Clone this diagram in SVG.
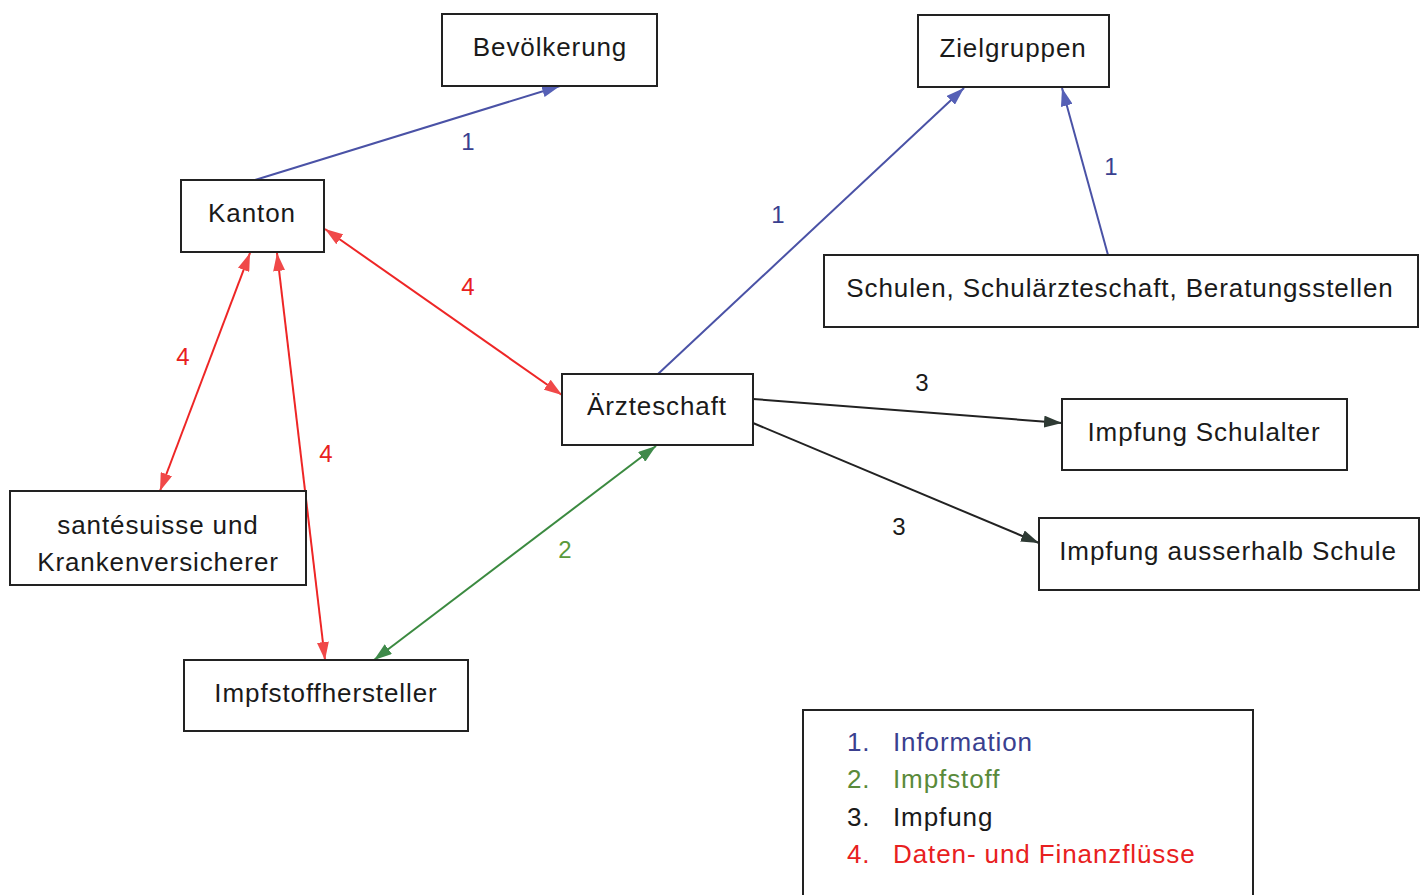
<svg xmlns="http://www.w3.org/2000/svg" width="1426" height="895" viewBox="0 0 1426 895">
<style>
.box{fill:#fff;stroke:#222;stroke-width:2}
.t{font-family:"Liberation Sans",Arial,sans-serif;font-size:26px;letter-spacing:0.9px;fill:#1a1a1a;text-anchor:middle}
.lbl{font-family:"Liberation Sans",Arial,sans-serif;font-size:24px;text-anchor:middle}
.leg{font-family:"Liberation Sans",Arial,sans-serif;font-size:26px;letter-spacing:0.9px}
.blue{stroke:#4a52a6;stroke-width:2;fill:none}
.red{stroke:#ee2626;stroke-width:2;fill:none}
.green{stroke:#3b8a40;stroke-width:2;fill:none}
.black{stroke:#222;stroke-width:2;fill:none}
</style>
<defs>
<marker id="mb" viewBox="0 0 18 12" refX="18" refY="6" markerWidth="18" markerHeight="12" markerUnits="userSpaceOnUse" orient="auto-start-reverse"><path d="M0,0 L18,6 L0,12 z" fill="#5660b6"/></marker>
<marker id="mr" viewBox="0 0 18 12" refX="18" refY="6" markerWidth="18" markerHeight="12" markerUnits="userSpaceOnUse" orient="auto-start-reverse"><path d="M0,0 L18,6 L0,12 z" fill="#f04848"/></marker>
<marker id="mg" viewBox="0 0 18 12" refX="18" refY="6" markerWidth="18" markerHeight="12" markerUnits="userSpaceOnUse" orient="auto-start-reverse"><path d="M0,0 L18,6 L0,12 z" fill="#3f8a4a"/></marker>
<marker id="mk" viewBox="0 0 18 12" refX="18" refY="6" markerWidth="18" markerHeight="12" markerUnits="userSpaceOnUse" orient="auto-start-reverse"><path d="M0,0 L18,6 L0,12 z" fill="#2e3a34"/></marker>
</defs>
<rect width="1426" height="895" fill="#fff"/>

<g id="connectors">
<line class="blue" x1="255" y1="180" x2="560" y2="86" marker-end="url(#mb)"/>
<line class="blue" x1="658" y1="374" x2="964" y2="88" marker-end="url(#mb)"/>
<line class="blue" x1="1108" y1="255" x2="1062" y2="88" marker-end="url(#mb)"/>
<line class="red" x1="325" y1="229" x2="562" y2="395" marker-start="url(#mr)" marker-end="url(#mr)"/>
<line class="red" x1="250" y1="253" x2="160" y2="491" marker-start="url(#mr)" marker-end="url(#mr)"/>
<line class="red" x1="277" y1="253" x2="325" y2="660" marker-start="url(#mr)" marker-end="url(#mr)"/>
<line class="green" x1="656" y1="446" x2="374" y2="660" marker-start="url(#mg)" marker-end="url(#mg)"/>
<line class="black" x1="753" y1="399" x2="1062" y2="423" marker-end="url(#mk)"/>
<line class="black" x1="753" y1="423" x2="1039" y2="543" marker-end="url(#mk)"/>
<text class="lbl" x="468" y="150" fill="#3a3f8f">1</text>
<text class="lbl" x="778" y="223" fill="#3a3f8f">1</text>
<text class="lbl" x="1111" y="175" fill="#3a3f8f">1</text>
<text class="lbl" x="468" y="295" fill="#e82020">4</text>
<text class="lbl" x="183" y="365" fill="#e82020">4</text>
<text class="lbl" x="326" y="462" fill="#e82020">4</text>
<text class="lbl" x="565" y="558" fill="#5a9a3a">2</text>
<text class="lbl" x="922" y="391" fill="#1a1a1a">3</text>
<text class="lbl" x="899" y="535" fill="#1a1a1a">3</text>
</g>

<g id="bevoelkerung"><rect class="box" x="442" y="14" width="215" height="72"/><text class="t" x="550" y="56">Bevölkerung</text></g>
<g id="zielgruppen"><rect class="box" x="918" y="15" width="191" height="72"/><text class="t" x="1013" y="57">Zielgruppen</text></g>
<g id="kanton"><rect class="box" x="181" y="180" width="143" height="72"/><text class="t" x="252" y="222">Kanton</text></g>
<g id="schulen"><rect class="box" x="824" y="255" width="594" height="72"/><text class="t" x="1120" y="297">Schulen, Schulärzteschaft, Beratungsstellen</text></g>
<g id="aerzteschaft"><rect class="box" x="562" y="374" width="191" height="71"/><text class="t" x="657" y="415">Ärzteschaft</text></g>
<g id="impfung-schulalter"><rect class="box" x="1062" y="399" width="285" height="71"/><text class="t" x="1204" y="441">Impfung Schulalter</text></g>
<g id="santesuisse"><rect class="box" x="10" y="491" width="296" height="94"/><text class="t" x="158" y="534">santésuisse und</text><text class="t" x="158" y="571">Krankenversicherer</text></g>
<g id="impfung-ausserhalb"><rect class="box" x="1039" y="518" width="380" height="72"/><text class="t" x="1228" y="560">Impfung ausserhalb Schule</text></g>
<g id="impfstoffhersteller"><rect class="box" x="184" y="660" width="284" height="71"/><text class="t" x="326" y="702">Impfstoffhersteller</text></g>

<g id="legende">
<rect class="box" x="803" y="710" width="450" height="200"/>
<text class="leg" x="847" y="751" fill="#3a3f8f">1.</text><text class="leg" x="893" y="751" fill="#3a3f8f">Information</text>
<text class="leg" x="847" y="788" fill="#5a8a3a">2.</text><text class="leg" x="893" y="788" fill="#5a8a3a">Impfstoff</text>
<text class="leg" x="847" y="826" fill="#1a1a1a">3.</text><text class="leg" x="893" y="826" fill="#1a1a1a">Impfung</text>
<text class="leg" x="847" y="863" fill="#e82020">4.</text><text class="leg" x="893" y="863" fill="#e82020">Daten- und Finanzflüsse</text>
</g>
</svg>
